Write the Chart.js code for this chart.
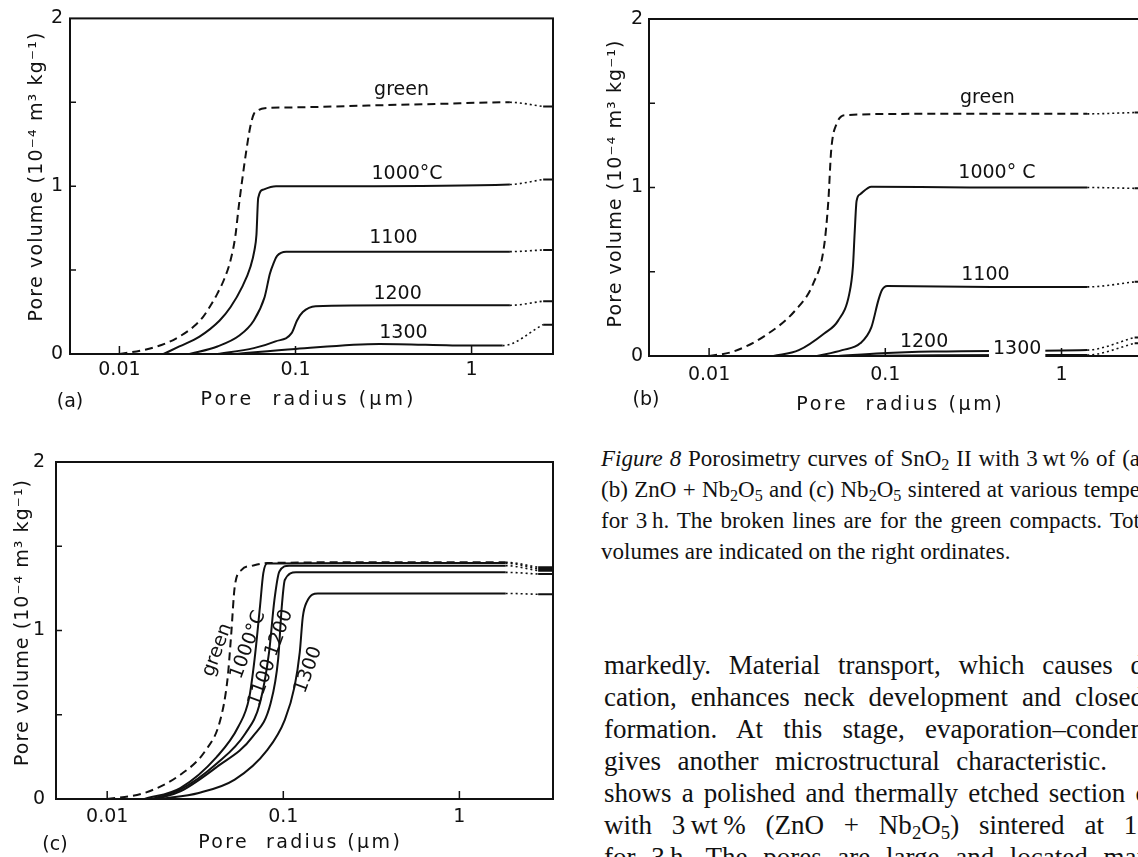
<!DOCTYPE html>
<html>
<head>
<meta charset="utf-8">
<title>Figure 8 Porosimetry curves</title>
<script src="https://cdn.jsdelivr.net/npm/chart.js"></script>
<style>
  html, body { margin: 0; padding: 0; background: #fff; overflow: hidden; width: 1138px; height: 857px; }
  .panel { position: absolute; }
  .ln { position: absolute; font-family: "Liberation Serif", "Times New Roman", serif; color: #111; white-space: nowrap; overflow: visible; }
  .just { text-align: justify; text-align-last: justify; }
  .cap { font-size: 23px; line-height: 31px; height: 31px; }
  .body { font-size: 27px; line-height: 32px; height: 32px; }
  sub { font-size: 70%; vertical-align: -0.25em; line-height: 0; }
</style>
</head>
<body>
<div class="panel" style="left:0;top:0;width:570px;height:420px"><canvas id="chartA"></canvas></div>
<div class="panel" style="left:570px;top:0;width:600px;height:420px"><canvas id="chartB"></canvas></div>
<div class="panel" style="left:0;top:420px;width:570px;height:437px"><canvas id="chartC"></canvas></div>

<div class="ln cap just" style="left:601px;top:443px;width:539px"><i>Figure 8</i> Porosimetry curves of SnO<sub>2</sub> II with 3&thinsp;wt&thinsp;% of (a</div>
<div class="ln cap just" style="left:601px;top:474px;width:539px">(b) ZnO + Nb<sub>2</sub>O<sub>5</sub> and (c) Nb<sub>2</sub>O<sub>5</sub> sintered at various tempe</div>
<div class="ln cap just" style="left:601px;top:505px;width:539px">for 3&thinsp;h. The broken lines are for the green compacts. Tot</div>
<div class="ln cap" style="left:601px;top:536px">volumes are indicated on the right ordinates.</div>

<div class="ln body just" style="left:604px;top:649px;width:540px">markedly. Material transport, which causes d</div>
<div class="ln body just" style="left:604px;top:681px;width:540px">cation, enhances neck development and closed</div>
<div class="ln body just" style="left:604px;top:713px;width:540px">formation. At this stage, evaporation–conden</div>
<div class="ln body just" style="left:604px;top:745px;width:503px">gives another microstructural characteristic.</div>
<div class="ln body just" style="left:604px;top:777px;width:545px">shows a polished and thermally etched section o</div>
<div class="ln body just" style="left:604px;top:809px;width:540px">with 3&thinsp;wt&thinsp;% (ZnO + Nb<sub>2</sub>O<sub>5</sub>) sintered at 1.</div>
<div class="ln body just" style="left:604px;top:841px;width:540px">for 3&thinsp;h. The pores are large and located mai</div>

<script>
// axis ticks shared by the three panels
const X_TICKS = [0.01, 0.1, 1];
const X_TICK_LABELS = ['0.01', '0.1', '1'];
const Y_TICKS = [0, 1, 2];
const Y_MINOR = [0.5, 1, 1.5];

// (a) pore radius (um) / pore volume (1e-4 m3/kg); last point = dotted extrapolation
const aGreenR = [0.01, 0.0139, 0.0185, 0.0224, 0.0265, 0.0298, 0.033, 0.036, 0.0395, 0.0428, 0.0455, 0.0475, 0.05, 0.0527, 0.0555, 0.058, 0.062, 0.0668, 0.102, 0.24, 0.62, 1.65, 2.55];
const aGreenV = [0, 0.025, 0.065, 0.11, 0.165, 0.22, 0.29, 0.36, 0.45, 0.56, 0.7, 0.87, 1.05, 1.22, 1.36, 1.43, 1.455, 1.465, 1.47, 1.48, 1.49, 1.5, 1.475];
const a1000R = [0.0178, 0.0219, 0.0285, 0.0371, 0.0428, 0.0498, 0.0555, 0.0585, 0.06, 0.0614, 0.0657, 0.0775, 0.2, 1.65, 2.55];
const a1000V = [0, 0.045, 0.104, 0.2, 0.28, 0.4, 0.52, 0.62, 0.71, 0.93, 0.98, 1.0, 1.0, 1.01, 1.04];
const a1100R = [0.025, 0.036, 0.048, 0.058, 0.0668, 0.0716, 0.075, 0.0786, 0.0886, 0.3, 1.65, 2.55];
const a1100V = [0, 0.045, 0.11, 0.2, 0.34, 0.48, 0.54, 0.585, 0.61, 0.61, 0.61, 0.62];
const a1200R = [0.036, 0.058, 0.077, 0.095, 0.102, 0.11, 0.13, 0.4, 1.65, 2.55];
const a1200V = [0, 0.035, 0.075, 0.124, 0.2, 0.25, 0.285, 0.29, 0.29, 0.315];
const a1300R = [0.045, 0.1, 0.3, 1.0, 1.5, 2.55];
const a1300V = [0, 0.03, 0.06, 0.05, 0.05, 0.175];

// (b)
const bGreenR = [0.01, 0.0137, 0.021, 0.0308, 0.039, 0.0449, 0.0475, 0.0493, 0.053, 0.0597, 0.15, 1.4, 2.6];
const bGreenV = [0, 0.026, 0.124, 0.27, 0.43, 0.65, 0.92, 1.22, 1.38, 1.43, 1.437, 1.437, 1.445];
const b1000R = [0.0232, 0.0323, 0.045, 0.054, 0.0625, 0.0655, 0.067, 0.0687, 0.072, 0.0833, 0.3, 1.4, 2.6];
const b1000V = [0, 0.035, 0.134, 0.21, 0.37, 0.53, 0.73, 0.92, 0.96, 1.005, 1.0, 1.0, 0.995];
const b1100R = [0.041, 0.0569, 0.072, 0.0833, 0.0913, 0.0956, 0.1025, 0.4, 1.4, 2.6];
const b1100V = [0, 0.035, 0.075, 0.17, 0.33, 0.39, 0.415, 0.41, 0.41, 0.44];
const b1200R = [0.054, 0.0956, 0.186, 0.4, 1.4, 2.6];
const b1200V = [0, 0.016, 0.026, 0.03, 0.035, 0.11];
const b1300R = [0.06, 0.2, 0.6, 1.4, 2.6];
const b1300V = [0, 0.004, 0.006, 0.006, 0.075];

// (c)
const cGreenR = [0.01, 0.0163, 0.026, 0.0363, 0.0439, 0.0482, 0.0505, 0.053, 0.058, 0.067, 0.081, 0.3, 1.83, 2.8];
const cGreenV = [0, 0.036, 0.144, 0.29, 0.47, 0.71, 0.965, 1.26, 1.36, 1.385, 1.4, 1.405, 1.405, 1.375];
const c1000R = [0.0163, 0.026, 0.0419, 0.0556, 0.064, 0.0687, 0.0737, 0.077, 0.081, 0.3, 1.83, 2.8];
const c1000V = [0, 0.065, 0.25, 0.43, 0.6, 0.83, 1.14, 1.34, 1.397, 1.4, 1.4, 1.365];
const c1100R = [0.018, 0.026, 0.0419, 0.061, 0.0737, 0.083, 0.089, 0.095, 0.108, 0.3, 1.83, 2.8];
const c1100V = [0, 0.055, 0.21, 0.39, 0.57, 0.87, 1.18, 1.35, 1.385, 1.385, 1.385, 1.355];
const c1200R = [0.019, 0.026, 0.0419, 0.067, 0.0848, 0.0935, 0.098, 0.102, 0.118, 0.3, 1.83, 2.8];
const c1200V = [0, 0.045, 0.19, 0.37, 0.57, 0.83, 1.14, 1.3, 1.345, 1.345, 1.345, 1.335];
const c1300R = [0.02, 0.0331, 0.053, 0.081, 0.102, 0.116, 0.124, 0.129, 0.136, 0.157, 0.4, 1.83, 2.8];
const c1300V = [0, 0.036, 0.115, 0.29, 0.47, 0.67, 0.87, 1.08, 1.17, 1.22, 1.22, 1.22, 1.215];

const INK = '#111';
const SANS = '"DejaVu Sans", "Liberation Sans", sans-serif';
const Y_TITLE = 'Pore volume (10\u207B\u2074 m\u00B3 kg\u207B\u00B9)';
const X_TITLE = 'Pore  radius (\u03BCm)';

// draw text centred on (x, y), spaced out to a given width
function spacedText(ctx, text, x, y, rot, size, width) {
  ctx.save();
  ctx.font = size + 'px ' + SANS;
  ctx.letterSpacing = '0px';
  const w = ctx.measureText(text).width;
  const ls = width ? Math.max(0, (width - w) / text.length) : 0;
  ctx.letterSpacing = ls + 'px';
  ctx.translate(x, y);
  ctx.rotate(rot || 0);
  ctx.textAlign = 'center';
  ctx.textBaseline = 'middle';
  ctx.fillStyle = INK;
  ctx.fillText(text, ls / 2, 0);
  ctx.restore();
}

function framePlugin(opt) {
  return {
    id: 'frame',
    afterDatasetsDraw(chart) {
      const { ctx, chartArea: a, scales: { x, y } } = chart;
      ctx.save();
      ctx.strokeStyle = INK;
      ctx.lineWidth = 2;
      ctx.strokeRect(a.left, a.top, a.right - a.left, a.bottom - a.top);

      // inward ticks
      ctx.lineWidth = 1.5;
      ctx.beginPath();
      Y_MINOR.forEach(v => { const py = y.getPixelForValue(v); ctx.moveTo(a.left, py); ctx.lineTo(a.left + 6, py); });
      X_TICKS.forEach(v => { const px = x.getPixelForValue(v); ctx.moveTo(px, a.bottom); ctx.lineTo(px, a.bottom - 8); });
      ctx.stroke();

      // total volumes on the right ordinate
      ctx.lineWidth = 2;
      ctx.beginPath();
      chart.data.datasets.forEach(d => {
        const end = d.data[d.data.length - 1];
        const py = y.getPixelForValue(end.y);
        ctx.moveTo(x.getPixelForValue(end.x), py);
        ctx.lineTo(a.right, py);
      });
      ctx.stroke();
      ctx.restore();

      // curve labels
      opt.labels.forEach(l => {
        const px = x.getPixelForValue(l.x), py = y.getPixelForValue(l.y);
        if (l.bg) {
          ctx.save();
          ctx.font = '19px ' + SANS;
          const w = ctx.measureText(l.t).width + 8;
          ctx.fillStyle = '#fff';
          ctx.fillRect(px - w / 2, py - 10, w, 20);
          ctx.restore();
        }
        spacedText(ctx, l.t, px, py, opt.labelRot, 19, 0);
      });

      // axis titles and panel letter
      spacedText(ctx, Y_TITLE, opt.yTitle[0], opt.yTitle[1], -Math.PI / 2, 19, opt.yTitle[2]);
      spacedText(ctx, X_TITLE, opt.xTitle[0], opt.xTitle[1], 0, 19, opt.xTitle[2]);
      spacedText(ctx, opt.letter[0], opt.letter[1], opt.letter[2], 0, 19, 0);
    }
  };
}

function makePanel(id, opt) {
  const datasets = opt.curves.map(c => {
    const last = c.r.length - 1;
    return {
      label: c.name,
      data: c.r.map((r, i) => ({ x: r, y: c.v[i] })),
      borderColor: INK,
      borderWidth: 2,
      pointRadius: 0,
      fill: false,
      cubicInterpolationMode: 'monotone',
      segment: {
        borderDash: s => s.p1DataIndex === last ? [2, 3] : (c.dashed ? [8, 5] : []),
        borderWidth: s => s.p1DataIndex === last ? 1.6 : 2
      }
    };
  });
  const tickFont = { family: SANS, size: 19 };
  return new Chart(document.getElementById(id), {
    type: 'line',
    data: { datasets },
    options: {
      responsive: true,
      maintainAspectRatio: false,
      animation: false,
      layout: { padding: { top: opt.padTop, right: opt.padRight, left: 0, bottom: 0 } },
      plugins: { legend: { display: false }, tooltip: { enabled: false } },
      scales: {
        x: {
          type: 'logarithmic', min: opt.xMin, max: opt.xMax,
          grid: { display: false, drawTicks: false }, border: { display: false },
          afterBuildTicks: s => { s.ticks = X_TICKS.map(value => ({ value })); },
          afterFit: s => { s.height = opt.xAxisH; },
          ticks: { padding: opt.xPad, font: tickFont, color: INK, maxRotation: 0, autoSkip: false,
                   callback: (v, i) => X_TICK_LABELS[i] }
        },
        y: {
          type: 'linear', min: 0, max: 2,
          grid: { display: false, drawTicks: false }, border: { display: false },
          afterBuildTicks: s => { s.ticks = Y_TICKS.map(value => ({ value })); },
          afterFit: s => { s.width = opt.yAxisW; },
          ticks: { padding: opt.yPad, font: tickFont, color: INK, callback: v => String(v) }
        }
      }
    },
    plugins: [framePlugin(opt)]
  });
}

makePanel('chartA', {
  xMin: 0.00524, xMax: 2.9, padTop: 15, padRight: 17, yAxisW: 70, xAxisH: 66, xPad: 5, yPad: 7,
  curves: [
    { name: 'green', r: aGreenR, v: aGreenV, dashed: true },
    { name: '1000', r: a1000R, v: a1000V },
    { name: '1100', r: a1100R, v: a1100V },
    { name: '1200', r: a1200R, v: a1200V },
    { name: '1300', r: a1300R, v: a1300V }
  ],
  labels: [
    { t: 'green', x: 0.40, y: 1.57 },
    { t: '1000\u00B0C', x: 0.43, y: 1.07 },
    { t: '1100', x: 0.36, y: 0.69 },
    { t: '1200', x: 0.38, y: 0.36 },
    { t: '1300', x: 0.41, y: 0.124 }
  ],
  labelRot: 0,
  yTitle: [37, 177, 290], xTitle: [307, 400, 216], letter: ['(a)', 70, 402]
});

makePanel('chartB', {
  xMin: 0.00456, xMax: 2.9, padTop: 19, padRight: 27, yAxisW: 79, xAxisH: 64, xPad: 8, yPad: 6,
  curves: [
    { name: 'green', r: bGreenR, v: bGreenV, dashed: true },
    { name: '1000', r: b1000R, v: b1000V },
    { name: '1100', r: b1100R, v: b1100V },
    { name: '1200', r: b1200R, v: b1200V },
    { name: '1300', r: b1300R, v: b1300V }
  ],
  labels: [
    { t: 'green', x: 0.38, y: 1.53 },
    { t: '1000\u00B0 C', x: 0.43, y: 1.086 },
    { t: '1100', x: 0.37, y: 0.48 },
    { t: '1200', x: 0.166, y: 0.083 },
    { t: '1300', x: 0.56, y: 0.042, bg: true }
  ],
  labelRot: 0,
  yTitle: [46, 184, 288], xTitle: [329, 405, 208], letter: ['(b)', 76, 400]
});

makePanel('chartC', {
  xMin: 0.00512, xMax: 3.4, padTop: 42, padRight: 17, yAxisW: 56, xAxisH: 58, xPad: 7, yPad: 11,
  curves: [
    { name: 'green', r: cGreenR, v: cGreenV, dashed: true },
    { name: '1000', r: c1000R, v: c1000V },
    { name: '1100', r: c1100R, v: c1100V },
    { name: '1200', r: c1200R, v: c1200V },
    { name: '1300', r: c1300R, v: c1300V }
  ],
  labels: [
    { t: 'green', x: 0.0422, y: 0.884 },
    { t: '1000\u00B0C', x: 0.0633, y: 0.914 },
    { t: '1100', x: 0.076, y: 0.69 },
    { t: '1200', x: 0.095, y: 0.985 },
    { t: '1300', x: 0.139, y: 0.766 }
  ],
  labelRot: -70 * Math.PI / 180,
  yTitle: [23, 203, 287], xTitle: [299, 423, 204], letter: ['(c)', 55, 425]
});
</script>
</body>
</html>
